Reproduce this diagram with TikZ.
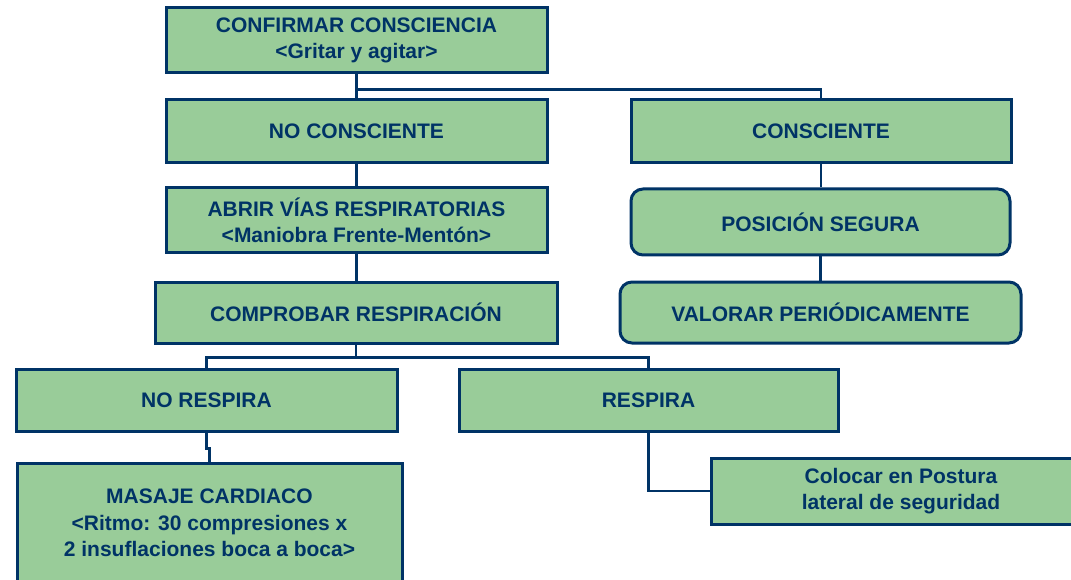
\documentclass[tikz,border=0pt]{standalone}
\usepackage{fontspec}
\setmainfont{Liberation Sans}
\definecolor{verde}{HTML}{99CC99}
\definecolor{azul}{HTML}{003366}
\tikzset{
  caja/.style={rectangle, draw=azul, fill=verde, line width=3pt, text=azul,
    font=\fontsize{21}{26.5}\selectfont\bfseries, align=center, inner sep=0pt},
  cajar/.style={caja, rounded corners=12pt},
  linea/.style={draw=azul, line width=2.8pt}
}
\begin{document}
\begin{tikzpicture}[x=1pt, y=-1pt]
  \useasboundingbox (0,0) rectangle (1071,580); % marco
  % columna izquierda
  \node[caja, minimum width=381pt, minimum height=65pt] (confirmar) at (356.5,40.5) {CONFIRMAR CONSCIENCIA\\{<}Gritar y agitar{>}};
  \node[caja, minimum width=381pt, minimum height=63pt] (noconsc) at (356.5,131.5) {NO CONSCIENTE};
  \node[caja, minimum width=381pt, minimum height=65pt] (abrir) at (356.5,220.5) {ABRIR VÍAS RESPIRATORIAS\\{<}Maniobra Frente-Mentón{>}};
  \node[caja, minimum width=402pt, minimum height=61pt] (comprobar) at (356,312.5) {COMPROBAR RESPIRACIÓN};
  % columna derecha
  \node[caja, minimum width=380pt, minimum height=63pt] (consc) at (821,131.5) {CONSCIENTE};
  \node[cajar, minimum width=379pt, minimum height=66pt] (posicion) at (820.5,222) {POSICIÓN SEGURA};
  \node[cajar, minimum width=401pt, minimum height=61pt] (valorar) at (820.5,312.5) {VALORAR PERIÓDICAMENTE};
  % respiracion
  \node[caja, minimum width=381pt, minimum height=62pt] (norespira) at (206.5,400) {NO RESPIRA};
  \node[caja, minimum width=379pt, minimum height=62pt] (respira) at (648.5,400) {RESPIRA};
  \node[caja, minimum width=385pt, minimum height=120pt] (masaje) at (209.5,523) {MASAJE CARDIACO\\{<}Ritmo: 30 compresiones x\\2 insuflaciones boca a boca{>}};
  \node[caja, minimum width=380pt, minimum height=66pt] (colocar) at (901,491) {Colocar en Postura\\lateral de seguridad};
  % conectores
  \draw[linea] (confirmar.south) -- (noconsc.north);
  \draw[linea] (confirmar.south) ++(0,15) -| (consc.north);
  \draw[linea] (noconsc.south) -- (abrir.north);
  \draw[linea] (abrir.south) -- (abrir.south |- comprobar.north);
  \draw[linea] (consc.south) -- (consc.south |- posicion.north);
  \draw[linea] (posicion.south) -- (valorar.north);
  \draw[linea] (comprobar.south) -- ++(0,13) -| (norespira.north);
  \draw[linea] (comprobar.south) ++(0,13) -| (respira.north);
  \draw[linea] (norespira.south) -- ++(0,16) -| (masaje.north);
  \draw[linea] (respira.south) |- (colocar.west);
\end{tikzpicture}
\end{document}
